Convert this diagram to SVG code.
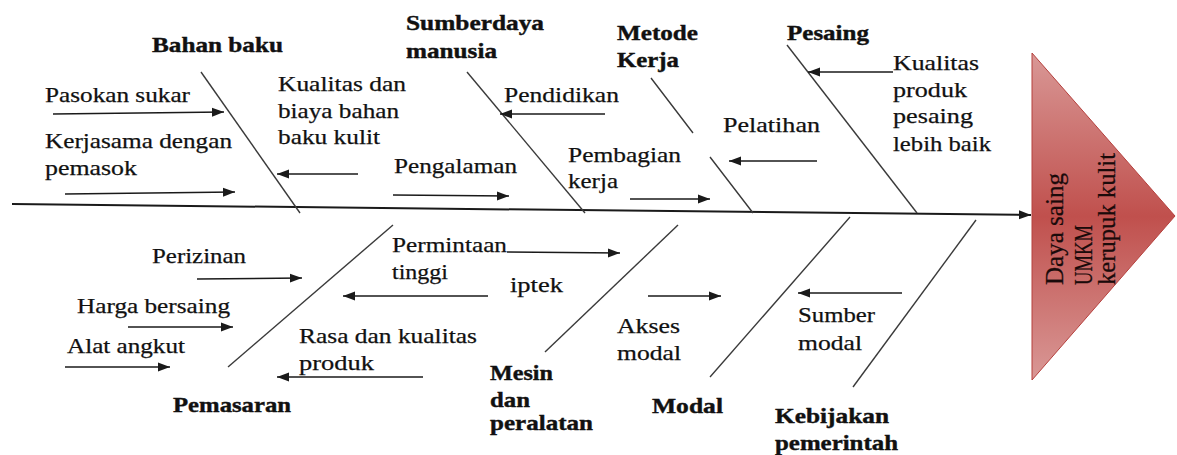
<svg xmlns="http://www.w3.org/2000/svg" width="1177" height="455" viewBox="0 0 1177 455" font-family="'Liberation Serif', 'DejaVu Serif', serif">
<style>
.t{font-family:'Liberation Serif','DejaVu Serif','Times New Roman',serif;font-size:22px;fill:#111;stroke:#111;stroke-width:0.25}
.b{font-weight:bold;stroke-width:0.4}
.h{font-size:25px;fill:#1a0a0a;stroke:#1a0a0a}
.bone{stroke:#3a3a3a;stroke-width:1.4;fill:none}
.arr{stroke:#1a1a1a;stroke-width:1.6;fill:none;marker-end:url(#ah)}
.spine{stroke:#1a1a1a;stroke-width:2;fill:none;marker-end:url(#ah2)}
</style>
<defs>
<marker id="ah" markerUnits="userSpaceOnUse" markerWidth="14" markerHeight="10" refX="12" refY="5" orient="auto">
<path d="M0,0.5 L12,5 L0,9.5 Z" fill="#1a1a1a"/>
</marker>
<marker id="ah2" markerUnits="userSpaceOnUse" markerWidth="14" markerHeight="10" refX="12" refY="5" orient="auto">
<path d="M0,0.5 L12,5 L0,9.5 Z" fill="#1a1a1a"/>
</marker>
<linearGradient id="hg" x1="0" y1="0" x2="0" y2="1">
<stop offset="0" stop-color="#d99896"/>
<stop offset="0.5" stop-color="#c0504d"/>
<stop offset="1" stop-color="#d99896"/>
</linearGradient>
</defs>
<rect width="1177" height="455" fill="#ffffff"/>

<g id="connectors">
<path class="spine" d="M12,204 L1031,215"/>
<path class="bone" d="M201,72 L300,213"/>
<path class="bone" d="M467,72 L585,213"/>
<path class="bone" d="M651,78 L693,133 M710,157 L753,213"/>
<path class="bone" d="M787,45 L917,213"/>
<path class="bone" d="M228,367 L393,225"/>
<path class="bone" d="M545,352 L678,225"/>
<path class="bone" d="M710,377 L850,217"/>
<path class="bone" d="M853,387 L976,220"/>
<path class="arr" d="M53,114 L224,112"/>
<path class="arr" d="M65,194 L235,192"/>
<path class="arr" d="M358,174 L277,174"/>
<path class="arr" d="M393,195 L509,196"/>
<path class="arr" d="M605,114 L500,114"/>
<path class="arr" d="M630,199 L710,199"/>
<path class="arr" d="M817,161 L729,161"/>
<path class="arr" d="M893,72 L808,72"/>
<path class="arr" d="M197,279 L302,278"/>
<path class="arr" d="M128,327 L233,327"/>
<path class="arr" d="M65,367 L170,367"/>
<path class="arr" d="M423,377 L277,377"/>
<path class="arr" d="M488,296 L343,296"/>
<path class="arr" d="M507,252 L620,253"/>
<path class="arr" d="M648,296 L721,296"/>
<path class="arr" d="M902,293 L798,293"/>
</g>

<g id="head">
<path d="M1032,53 L1175,216 L1032,380 Z" fill="url(#hg)" stroke="#b5403d" stroke-width="1"/>
<text class="t h" transform="translate(1063,285) rotate(-90)" textLength="112" lengthAdjust="spacingAndGlyphs">Daya saing</text>
<text class="t h" transform="translate(1092,285) rotate(-90)" textLength="60" lengthAdjust="spacingAndGlyphs">UMKM</text>
<text class="t h" transform="translate(1115,285) rotate(-90)" textLength="132" lengthAdjust="spacingAndGlyphs">kerupuk kulit</text>
</g>

<g id="bahan-baku"><text class="t b" x="152" y="52" textLength="131" lengthAdjust="spacingAndGlyphs">Bahan baku</text></g>
<g id="pasokan"><text class="t" x="45" y="102" textLength="145" lengthAdjust="spacingAndGlyphs">Pasokan sukar</text></g>
<g id="kerjasama">
<text class="t" x="45" y="148" textLength="187" lengthAdjust="spacingAndGlyphs">Kerjasama dengan</text>
<text class="t" x="45" y="175" textLength="92" lengthAdjust="spacingAndGlyphs">pemasok</text>
</g>
<g id="kualitas-biaya">
<text class="t" x="278" y="91" textLength="128" lengthAdjust="spacingAndGlyphs">Kualitas dan</text>
<text class="t" x="278" y="118" textLength="121" lengthAdjust="spacingAndGlyphs">biaya bahan</text>
<text class="t" x="278" y="144" textLength="102" lengthAdjust="spacingAndGlyphs">baku kulit</text>
</g>

<g id="sdm">
<text class="t b" x="406" y="30" textLength="138" lengthAdjust="spacingAndGlyphs">Sumberdaya</text>
<text class="t b" x="406" y="58" textLength="91" lengthAdjust="spacingAndGlyphs">manusia</text>
</g>
<g id="pendidikan"><text class="t" x="504" y="102" textLength="115" lengthAdjust="spacingAndGlyphs">Pendidikan</text></g>
<g id="pengalaman"><text class="t" x="394" y="173" textLength="123" lengthAdjust="spacingAndGlyphs">Pengalaman</text></g>

<g id="metode">
<text class="t b" x="617" y="40" textLength="81" lengthAdjust="spacingAndGlyphs">Metode</text>
<text class="t b" x="617" y="67" textLength="62" lengthAdjust="spacingAndGlyphs">Kerja</text>
</g>
<g id="pembagian">
<text class="t" x="568" y="162" textLength="113" lengthAdjust="spacingAndGlyphs">Pembagian</text>
<text class="t" x="568" y="188" textLength="50" lengthAdjust="spacingAndGlyphs">kerja</text>
</g>
<g id="pelatihan"><text class="t" x="723" y="132" textLength="97" lengthAdjust="spacingAndGlyphs">Pelatihan</text></g>

<g id="pesaing"><text class="t b" x="787" y="40" textLength="82" lengthAdjust="spacingAndGlyphs">Pesaing</text></g>
<g id="kualitas-pesaing">
<text class="t" x="893" y="70" textLength="86" lengthAdjust="spacingAndGlyphs">Kualitas</text>
<text class="t" x="893" y="97" textLength="74" lengthAdjust="spacingAndGlyphs">produk</text>
<text class="t" x="893" y="123" textLength="80" lengthAdjust="spacingAndGlyphs">pesaing</text>
<text class="t" x="893" y="151" textLength="98" lengthAdjust="spacingAndGlyphs">lebih baik</text>
</g>

<g id="pemasaran"><text class="t b" x="173" y="412" textLength="118" lengthAdjust="spacingAndGlyphs">Pemasaran</text></g>
<g id="perizinan"><text class="t" x="152" y="263" textLength="94" lengthAdjust="spacingAndGlyphs">Perizinan</text></g>
<g id="harga"><text class="t" x="77" y="313" textLength="153" lengthAdjust="spacingAndGlyphs">Harga bersaing</text></g>
<g id="alat"><text class="t" x="67" y="353" textLength="118" lengthAdjust="spacingAndGlyphs">Alat angkut</text></g>
<g id="permintaan">
<text class="t" x="392" y="252" textLength="115" lengthAdjust="spacingAndGlyphs">Permintaan</text>
<text class="t" x="392" y="279" textLength="56" lengthAdjust="spacingAndGlyphs">tinggi</text>
</g>
<g id="rasa">
<text class="t" x="299" y="343" textLength="178" lengthAdjust="spacingAndGlyphs">Rasa dan kualitas</text>
<text class="t" x="299" y="370" textLength="75" lengthAdjust="spacingAndGlyphs">produk</text>
</g>

<g id="mesin">
<text class="t b" x="490" y="380" textLength="63" lengthAdjust="spacingAndGlyphs">Mesin</text>
<text class="t b" x="490" y="407" textLength="40" lengthAdjust="spacingAndGlyphs">dan</text>
<text class="t b" x="490" y="430" textLength="103" lengthAdjust="spacingAndGlyphs">peralatan</text>
</g>
<g id="iptek"><text class="t" x="510" y="292" textLength="53" lengthAdjust="spacingAndGlyphs">iptek</text></g>

<g id="modal"><text class="t b" x="652" y="413" textLength="71" lengthAdjust="spacingAndGlyphs">Modal</text></g>
<g id="akses">
<text class="t" x="617" y="333" textLength="63" lengthAdjust="spacingAndGlyphs">Akses</text>
<text class="t" x="617" y="360" textLength="64" lengthAdjust="spacingAndGlyphs">modal</text>
</g>

<g id="kebijakan">
<text class="t b" x="775" y="423" textLength="114" lengthAdjust="spacingAndGlyphs">Kebijakan</text>
<text class="t b" x="775" y="450" textLength="123" lengthAdjust="spacingAndGlyphs">pemerintah</text>
</g>
<g id="sumber">
<text class="t" x="798" y="322" textLength="77" lengthAdjust="spacingAndGlyphs">Sumber</text>
<text class="t" x="798" y="350" textLength="64" lengthAdjust="spacingAndGlyphs">modal</text>
</g>
</svg>
